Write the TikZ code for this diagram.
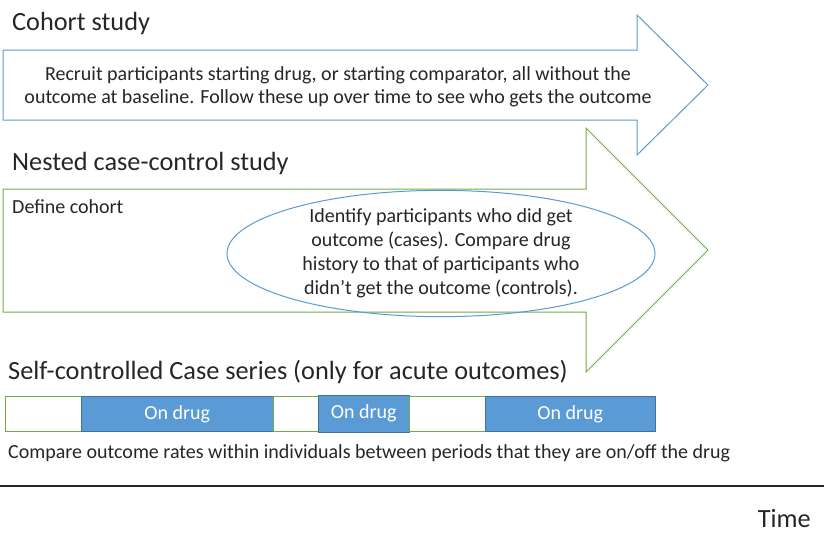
\documentclass[tikz,border=0pt]{standalone}
\usepackage{fontspec}
\setmainfont{Carlito}
\usetikzlibrary{shapes.geometric}

\definecolor{cohortblue}{HTML}{5B9BD5}
\definecolor{nestgreen}{HTML}{70AD47}
\definecolor{drugfill}{HTML}{5B9BD5}
\definecolor{drugedge}{HTML}{41719C}
\definecolor{textgrey}{HTML}{262626}

\tikzset{
  heading/.style={anchor=west,inner sep=0pt,font=\fontsize{26.3}{30}\selectfont,text=textgrey},
  body/.style={inner sep=0pt,font=\fontsize{20}{23.5}\selectfont,text=textgrey,align=center},
  offbar/.style={draw=nestgreen,fill=white,line width=0.8pt,anchor=north west,inner sep=0pt,minimum height=35pt},
  onbar/.style={draw=drugedge,fill=drugfill,line width=0.6pt,anchor=north west,inner sep=0pt,minimum height=35pt,
    text=white,font=\fontsize{20}{22}\selectfont},
}

\begin{document}
\begin{tikzpicture}[x=1pt,y=-1pt]
\useasboundingbox (0,0) rectangle (824,533);

% cohort study
\node[heading] (cohorttitle) at (12,23) {Cohort study};
\draw[cohortblue,line width=1pt,fill=white] (3,50) -- (637,50) -- (637,15) -- (708,85) -- (637,155) -- (637,120) -- (3,120) -- cycle;
\node[body] (cohorttext) at (338,87) {Recruit participants starting drug, or starting comparator, all without the\\outcome at baseline. Follow these up over time to see who gets the outcome};

% nested case-control study
\node[heading] (nestedtitle) at (12,163) {Nested case-control study};
\draw[nestgreen,line width=1pt,fill=white] (3,189) -- (586,189) -- (586,128) -- (708,250) -- (586,372) -- (586,312) -- (3,312) -- cycle;
\node[body,anchor=west] (definecohort) at (12,207) {Define cohort};
\node[draw=cohortblue,line width=1pt,ellipse,minimum width=428pt,minimum height=117pt,inner sep=0pt,
  body,font=\fontsize{20}{24}\selectfont] (cases) at (441,253.5) {Identify participants who did get\\outcome (cases). Compare drug\\history to that of participants who\\didn’t get the outcome (controls).};

% self-controlled case series
\node[heading] (scctitle) at (8,372) {Self-controlled Case series (only for acute outcomes)};
\node[offbar,minimum width=76pt] (off1) at (5,396) {};
\node[onbar,minimum width=192pt] (on1) at (81,396) {On drug};
\node[offbar,minimum width=45pt] (off2) at (273,396) {};
\node[onbar,minimum width=91pt,minimum height=37pt] (on2) at (318,394.5) {On drug};
\node[offbar,minimum width=76pt] (off3) at (409,396) {};
\node[onbar,minimum width=170pt] (on3) at (485,396) {On drug};
\node[body,anchor=west] (comparetext) at (8,453) {Compare outcome rates within individuals between periods that they are on/off the drug};

% time axis
\coordinate (axisstart) at (0,486);
\coordinate (axisend) at (824,486);
\draw[line width=1.6pt,textgrey] (axisstart) -- (axisend);
\node[heading,anchor=east] (timelabel) at (811,519) {Time};
\end{tikzpicture}
\end{document}
